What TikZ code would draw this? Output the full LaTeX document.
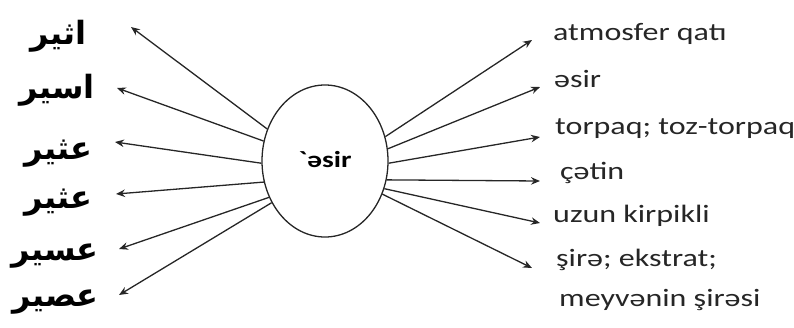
\documentclass[tikz,border=0pt]{standalone}
\usepackage{fontspec}
\usetikzlibrary{arrows.meta,shapes.geometric}
\TeXXeTstate=1
\newfontfamily\latf[FakeStretch=1.28]{Carlito}
\newfontfamily\arabicf[Script=Arabic]{DejaVu Sans}
\tikzset{
  lbl/.style={inner sep=0pt, anchor=base west, font=\latf\fontsize{25}{28}\selectfont, text=black!85},
  arlbl/.style={inner sep=0pt, anchor=base east, font=\arabicf\bfseries\fontsize{32}{38}\selectfont},
  arr/.style={draw=black!85, line width=1.3pt, -{Stealth[length=9pt,width=7.5pt,inset=3pt]}},
}
\begin{document}
\begin{tikzpicture}[x=1pt,y=-1pt]
\useasboundingbox (0,0) rectangle (794,327);
\node[draw=black!85, line width=1.3pt, ellipse, minimum width=126pt, minimum height=152pt, inner sep=0pt] (c) at (325,161) {};
\node[font=\latf\bfseries\fontsize{23}{26}\selectfont, inner sep=0pt] (ct) at (325,160) {\symbol{96}əsir};
% right texts
\node[lbl] (r1) at (553,40) {atmosfer qatı};
\node[lbl] (r2) at (554,87) {əsir};
\node[lbl] (r3) at (555,134) {torpaq; toz-torpaq};
\node[lbl] (r4) at (560,179) {çətin};
\node[lbl] (r5) at (553,222) {uzun kirpikli};
\node[lbl] (r6) at (556,266) {şirə; ekstrat;};
\node[lbl] (r7) at (559,306) {meyvənin şirəsi};
% left texts
\node[arlbl] (l1) at (87,44) {\beginR اثير\endR};
\node[arlbl] (l2) at (95,98) {\beginR اسير\endR};
\node[arlbl] (l3) at (93,159) {\beginR عثير\endR};
\node[arlbl] (l4) at (93,208) {\beginR عثير\endR};
\node[arlbl] (l5) at (99,260) {\beginR عسير\endR};
\node[arlbl] (l6) at (99,306) {\beginR عصير\endR};
% tips
\coordinate (tl1) at (131,27);
\coordinate (tl2) at (117,88);
\coordinate (tl3) at (115,142);
\coordinate (tl4) at (116,194);
\coordinate (tl5) at (119,249);
\coordinate (tl6) at (119,295);
\coordinate (tr1) at (532,40);
\coordinate (tr2) at (540,87);
\coordinate (tr3) at (540,137);
\coordinate (tr4) at (540,181);
\coordinate (tr5) at (540,223);
\coordinate (tr6) at (532,268);
\draw[arr] (c.151) -- (tl1);
\draw[arr] (c.162) -- (tl2);
\draw[arr] (c.182) -- (tl3);
\draw[arr] (c.199) -- (tl4);
\draw[arr] (c.213) -- (tl5);
\draw[arr] (c.218) -- (tl6);
\draw[arr] (c.22) -- (tr1);
\draw[arr] (c.11) -- (tr2);
\draw[arr] (c.-2) -- (tr3);
\draw[arr] (c.-17) -- (tr4);
\draw[arr] (c.-25) -- (tr5);
\draw[arr] (c.-30) -- (tr6);
\end{tikzpicture}
\end{document}
